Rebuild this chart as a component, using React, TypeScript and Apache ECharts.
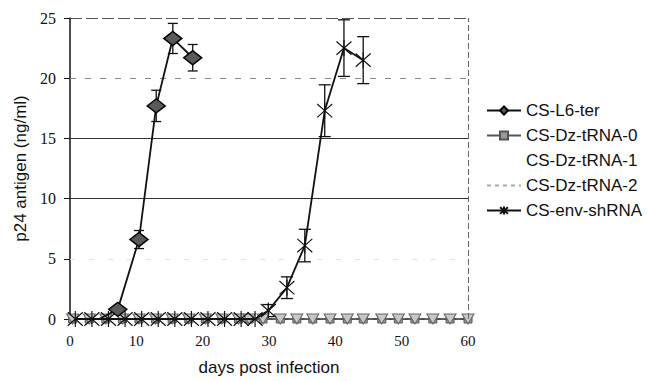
import React, { useEffect, useRef } from "react";
import * as echarts from "echarts";

// ---- data ----
const xTicks = [0, 10, 20, 30, 40, 50, 60];
const yTicks = [0, 5, 10, 15, 20, 25];

const seriesNames = ["CS-L6-ter", "CS-Dz-tRNA-0", "CS-Dz-tRNA-1", "CS-Dz-tRNA-2", "CS-env-shRNA"];

const l6Days = [4.4, 7.2, 10.4, 13.0, 15.5, 18.5];
const l6Values = [0, 0.8, 6.6, 17.7, 23.3, 21.7];
const l6Errors = [0, 0, 0.75, 1.3, 1.25, 1.1];

const envDays = [0.8, 3.3, 5.8, 8.3, 10.8, 13.3, 15.8, 18.3, 20.8, 23.3, 25.8, 27.9, 29.9, 32.7, 35.4, 38.4, 41.3, 44.2];
const envValues = [0, 0, 0, 0, 0, 0, 0, 0, 0, 0, 0, 0, 0.7, 2.6, 6.1, 17.3, 22.5, 21.5];
const envErrors = [0, 0, 0, 0, 0, 0, 0, 0, 0, 0, 0, 0, 0.5, 0.9, 1.35, 2.15, 2.35, 1.95];

const dzDays = [0.4, 2.9, 5.4, 7.9, 10.4, 12.9, 15.4, 17.9, 20.4, 22.9, 25.4, 27.0, 29.1, 31.7, 34.2, 36.6, 39.2, 41.8, 44.2, 47.0, 49.5, 52.0, 54.7, 57.3, 60.0];
const dz0Values = [0, 0, 0, 0, 0, 0, 0, 0, 0, 0, 0, 0, 0, 0, 0, 0, 0, 0, 0, 0, 0, 0, 0, 0, 0];
const dz1Values = [0, 0, 0, 0, 0, 0, 0, 0, 0, 0, 0, 0, 0, 0, 0, 0, 0, 0, 0, 0, 0, 0, 0, 0, 0];
const dz2Values = [0, 0, 0, 0, 0, 0, 0, 0, 0, 0, 0, 0, 0, 0, 0, 0, 0, 0, 0, 0, 0, 0, 0, 0, 0];

const gridLevels = [5, 10, 15, 20, 25];

const STAR = "path://M0,0L10,10M10,0L0,10M5,-1L5,11";

const gridStyles: Record<number, any> = {
  5: { color: "#e4e4e4", type: [5, 14], width: 1 },
  10: { color: "#333", type: "solid", width: 1.2 },
  15: { color: "#333", type: "solid", width: 1.2 },
  20: { color: "#888", type: [6, 9], width: 1 },
  25: { color: "#555", type: [12, 4], width: 1 },
};

function pairs(xs: number[], ys: number[]) {
  return xs.map((x, i) => [x, ys[i]]);
}

function errData(xs: number[], ys: number[], es: number[]) {
  return xs
    .map((x, i) => [x, ys[i] - es[i], ys[i] + es[i], es[i]])
    .filter((d) => d[3] > 0);
}

function errorSeries(data: number[][], half: number) {
  return {
    type: "custom",
    z: 1,
    silent: true,
    encode: { x: 0, y: [1, 2] },
    data,
    renderItem: (params: any, api: any) => {
      const x = api.value(0);
      const lo = api.coord([x, api.value(1)]);
      const hi = api.coord([x, api.value(2)]);
      const style = { stroke: "#111", lineWidth: 1.3 };
      return {
        type: "group",
        children: [
          { type: "line", shape: { x1: hi[0], y1: hi[1], x2: lo[0], y2: lo[1] }, style },
          { type: "line", shape: { x1: hi[0] - half, y1: hi[1], x2: hi[0] + half, y2: hi[1] }, style },
          { type: "line", shape: { x1: lo[0] - half, y1: lo[1], x2: lo[0] + half, y2: lo[1] }, style },
        ],
      };
    },
  };
}

export default function App() {
  const ref = useRef<HTMLDivElement>(null);

  useEffect(() => {
    if (!ref.current) return;
    const chart = echarts.init(ref.current, null, { renderer: "svg" });
    const option: any = {
      animation: false,
      backgroundColor: "#fff",
      grid: { left: 70, right: 180, top: 18, bottom: 59 },
      legend: {
        orient: "vertical",
        left: 481,
        top: 97,
        itemWidth: 34,
        itemHeight: 10,
        itemGap: 8,
        textStyle: { fontFamily: "Liberation Sans", fontSize: 17, color: "#111" },
        data: [
          { name: seriesNames[0] },
          { name: seriesNames[1] },
          { name: seriesNames[2], itemStyle: { opacity: 0 }, lineStyle: { opacity: 0 } },
          { name: seriesNames[3], itemStyle: { opacity: 0 } },
          { name: seriesNames[4] },
        ],
      },
      xAxis: {
        type: "value",
        min: xTicks[0],
        max: xTicks[xTicks.length - 1],
        interval: 10,
        name: "days post infection",
        nameLocation: "middle",
        nameGap: 40,
        nameTextStyle: { fontFamily: "Liberation Sans", fontSize: 17, color: "#111" },
        axisLine: { lineStyle: { color: "#111", width: 1.5 } },
        axisTick: { show: false },
        axisLabel: { margin: 14, fontFamily: "Liberation Serif", fontSize: 15, color: "#111" },
        splitLine: { show: false },
      },
      yAxis: {
        type: "value",
        min: yTicks[0],
        max: yTicks[yTicks.length - 1],
        interval: 5,
        name: "p24 antigen (ng/ml)",
        nameLocation: "middle",
        nameGap: 40,
        nameTextStyle: { fontFamily: "Liberation Sans", fontSize: 17, color: "#111" },
        axisLine: { show: true, lineStyle: { color: "#111", width: 1.5 } },
        axisTick: { show: true, length: 6, lineStyle: { color: "#111" } },
        axisLabel: { margin: 14, fontFamily: "Liberation Serif", fontSize: 16, color: "#111" },
        splitLine: { show: false },
      },
      series: [
        errorSeries(errData(l6Days, l6Values, l6Errors), 5),
        errorSeries(errData(envDays, envValues, envErrors), 6),
        {
          name: seriesNames[3],
          type: "line",
          data: pairs(dzDays, dz2Values),
          symbol: "none",
          lineStyle: { color: "#aaa", width: 1, type: [4, 4] },
          itemStyle: { color: "#aaa" },
          z: 2,
          markLine: {
            silent: true,
            symbol: "none",
            label: { show: false },
            data: [
              ...gridLevels.map((v) => ({ yAxis: v, lineStyle: gridStyles[v] })),
              { xAxis: xTicks[xTicks.length - 1], lineStyle: { color: "#666", type: [6, 3], width: 1 } },
            ],
          },
        },
        {
          name: seriesNames[1],
          type: "line",
          data: pairs(dzDays, dz0Values),
          symbol: "rect",
          symbolSize: 8,
          lineStyle: { color: "#555", width: 1 },
          itemStyle: { color: "#9a9a9a", borderColor: "#555", borderWidth: 1 },
          z: 3,
        },
        {
          name: seriesNames[2],
          type: "line",
          data: pairs(dzDays, dz1Values),
          symbol: "triangle",
          symbolRotate: 180,
          symbolSize: [12, 10],
          lineStyle: { opacity: 0 },
          itemStyle: { color: "#c8c8c8", borderColor: "#666", borderWidth: 1 },
          z: 4,
        },
        {
          name: seriesNames[4],
          type: "line",
          data: pairs(envDays, envValues),
          symbol: STAR,
          symbolSize: [15, 16],
          lineStyle: { color: "#111", width: 1.8 },
          itemStyle: { color: "#111", borderColor: "#111", borderWidth: 1.2 },
          z: 5,
        },
        {
          name: seriesNames[0],
          type: "line",
          data: pairs(l6Days, l6Values),
          symbol: "diamond",
          symbolSize: (v: number[]) => (v[1] > 0 ? [18, 14] : 0),
          lineStyle: { color: "#111", width: 1.8 },
          itemStyle: { color: "#5a5a5a", borderColor: "#000", borderWidth: 1.5 },
          z: 6,
        },
      ],
    };
    chart.setOption(option);
    return () => chart.dispose();
  }, []);

  return (
    <div
      ref={ref}
      style={{ position: "fixed", left: 0, top: 0, width: 648, height: 381, background: "#fff" }}
    />
  );
}
